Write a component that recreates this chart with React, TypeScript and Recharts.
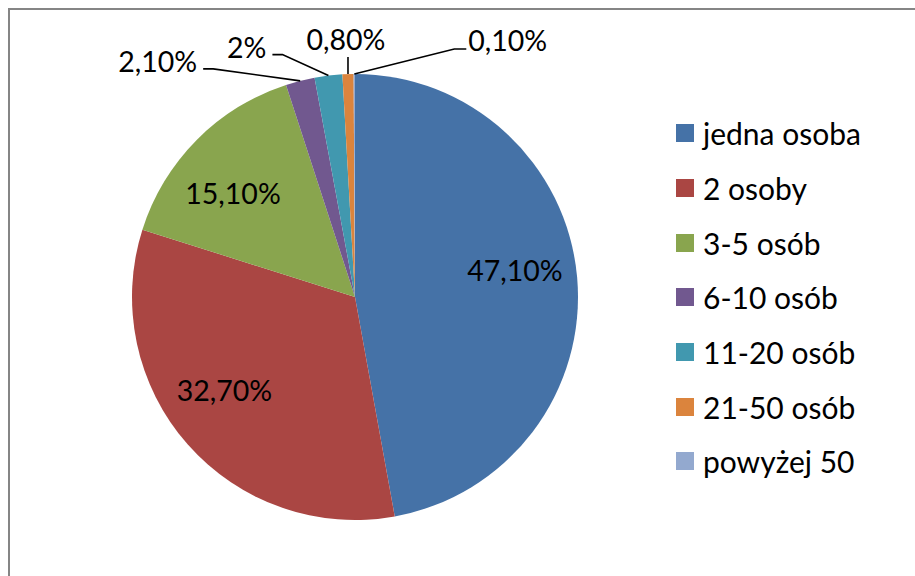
import React from "react";
import { PieChart, Pie, Cell, Legend } from "recharts";

const categories = [
  "jedna osoba",
  "2 osoby",
  "3-5 osób",
  "6-10 osób",
  "11-20 osób",
  "21-50 osób",
  "powyżej 50",
];
const shares = [47.1, 32.7, 15.1, 2.1, 2.0, 0.8, 0.1];
const shareLabels = ["47,10%", "32,70%", "15,10%", "2,10%", "2%", "0,80%", "0,10%"];

const COLORS = ["#4572A7", "#AA4643", "#89A54E", "#71588F", "#4198AF", "#DB843D", "#93A9CF"];
const FONT = "Lato, 'Open Sans', sans-serif";
const RADIAN = Math.PI / 180;

// label placement per slice: inside labels get a nudge, outside ones a leader line
const labelLayout: any[] = [
  { inside: true, nx: 0, ny: -13 },
  { inside: true, nx: -10, ny: -13 },
  { inside: true, nx: -8, ny: 9 },
  { elbow: [-87, -12], tail: -10, text: [-6, 3], anchor: "end" },
  { elbow: [-46, -21], tail: -10, text: [-6, 3], anchor: "end" },
  { elbow: [0, -17], tail: 0, text: [-2, -7], anchor: "middle" },
  { elbow: [100, -25], tail: 12, text: [2, 2], anchor: "start" },
];

const data = categories.map((name, i) => ({ name, value: shares[i] }));

const renderLabel = (props: any) => {
  const { cx, cy, midAngle, outerRadius, index } = props;
  const cfg = labelLayout[index];
  const cos = Math.cos(-midAngle * RADIAN);
  const sin = Math.sin(-midAngle * RADIAN);
  if (cfg.inside) {
    const r = outerRadius * 0.72;
    return (
      <text
        x={cx + r * cos + cfg.nx}
        y={cy + r * sin + cfg.ny}
        textAnchor="middle"
        dominantBaseline="central"
        fontFamily={FONT}
        fontSize={28.5}
        fill="#000"
      >
        {shareLabels[index]}
      </text>
    );
  }
  const ex = cx + outerRadius * cos;
  const ey = cy + outerRadius * sin;
  const bx = ex + cfg.elbow[0];
  const by = ey + cfg.elbow[1];
  const tx = bx + cfg.tail;
  return (
    <g>
      <polyline points={`${ex},${ey} ${bx},${by} ${tx},${by}`} fill="none" stroke="#000" strokeWidth={1.6} />
      <text
        x={tx + cfg.text[0]}
        y={by + cfg.text[1]}
        textAnchor={cfg.anchor}
        fontFamily={FONT}
        fontSize={28.5}
        fill="#000"
      >
        {shareLabels[index]}
      </text>
    </g>
  );
};

const renderLegend = () => (
  <div>
    {categories.map((name, i) => (
      <div
        key={name}
        style={{ display: "flex", alignItems: "center", height: 54.7, fontFamily: FONT, fontSize: 30, color: "#000" }}
      >
        <span style={{ width: 18, height: 18, background: COLORS[i], marginRight: 9, flexShrink: 0 }} />
        <span>{name}</span>
      </div>
    ))}
  </div>
);

export default function App() {
  return (
    <div style={{ position: "absolute", left: 0, top: 0, width: 915, height: 576, background: "#fff", overflow: "hidden" }}>
      <div
        style={{
          position: "absolute",
          left: 8,
          top: 8,
          width: 1000,
          height: 700,
          border: "2px solid #858585",
          boxSizing: "border-box",
        }}
      />
      <div style={{ position: "absolute", left: 0, top: 0 }}>
        <PieChart width={915} height={576} margin={{ top: 0, right: 0, bottom: 0, left: 0 }}>
          <Pie
            data={data}
            dataKey="value"
            nameKey="name"
            cx={355}
            cy={297}
            outerRadius={223}
            startAngle={90}
            endAngle={-270}
            stroke="none"
            label={renderLabel}
            labelLine={false}
            isAnimationActive={false}
          >
            {data.map((d, i) => (
              <Cell key={d.name} fill={COLORS[i]} />
            ))}
          </Pie>
          <Legend
            content={renderLegend}
            layout="vertical"
            wrapperStyle={{ position: "absolute", left: 676, top: 106, width: 235 }}
          />
        </PieChart>
      </div>
    </div>
  );
}
